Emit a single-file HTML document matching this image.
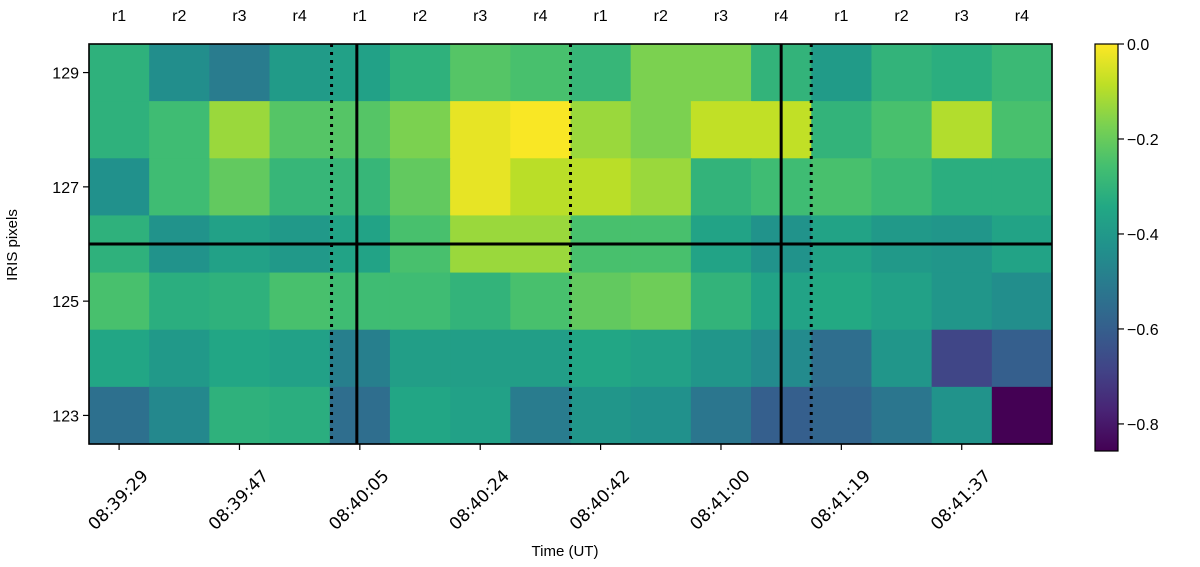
<!DOCTYPE html>
<html><head><meta charset="utf-8"><style>
body{margin:0;background:#fff;}
svg{display:block;font-family:"Liberation Sans","DejaVu Sans",sans-serif;}
</style></head><body>
<svg id="chart" width="1200" height="567" viewBox="0 0 1200 567">
<g id="cells"></g>
<g id="overlay"></g>
<g id="axes"></g>
<g id="cbar"></g>
</svg>
<script>
const rowLabels=[129,128,127,126,125,124,123];
const yTicks=[123,125,127,129];
const topLabels=["r1","r2","r3","r4","r1","r2","r3","r4","r1","r2","r3","r4","r1","r2","r3","r4"];
const timeLabels=["08:39:29","08:39:47","08:40:05","08:40:24","08:40:42","08:41:00","08:41:19","08:41:37"];
const cbTicks=[0.0,-0.2,-0.4,-0.6,-0.8];
const row129=[-0.31,-0.44,-0.50,-0.39,-0.37,-0.31,-0.23,-0.25,-0.29,-0.17,-0.17,-0.30,-0.39,-0.30,-0.32,-0.28];
const row128=[-0.31,-0.27,-0.13,-0.23,-0.23,-0.17,-0.03,-0.005,-0.13,-0.17,-0.08,-0.08,-0.30,-0.25,-0.10,-0.25];
const row127=[-0.43,-0.27,-0.21,-0.29,-0.29,-0.21,-0.03,-0.09,-0.09,-0.13,-0.30,-0.27,-0.25,-0.28,-0.32,-0.32];
const row126=[-0.31,-0.42,-0.37,-0.40,-0.36,-0.25,-0.13,-0.13,-0.25,-0.25,-0.36,-0.42,-0.36,-0.40,-0.41,-0.36];
const row125=[-0.25,-0.32,-0.31,-0.25,-0.27,-0.27,-0.30,-0.25,-0.21,-0.19,-0.30,-0.36,-0.34,-0.37,-0.41,-0.44];
const row124=[-0.35,-0.40,-0.35,-0.37,-0.49,-0.38,-0.38,-0.38,-0.35,-0.37,-0.41,-0.45,-0.55,-0.41,-0.68,-0.60];
const row123=[-0.54,-0.46,-0.31,-0.32,-0.55,-0.35,-0.37,-0.50,-0.41,-0.43,-0.52,-0.60,-0.58,-0.52,-0.42,-0.857];
const rows=[row129,row128,row127,row126,row125,row124,row123];
const vmin=-0.857, vmax=0;
const solidCols=[4.45,11.5];
const dottedCols=[4.03,8.0,12.0];
const hLineRow=126.0;

const NS="http://www.w3.org/2000/svg";
const L=89,R=1052,T=44,B=444;
const nC=16,nR=7;
const cw=(R-L)/nC, rh=(B-T)/nR;
function xCol(c){return L+c*cw;}
function yVal(v){return T+(129.5-v)*rh;}
const vir=["#440154","#482475","#414487","#355f8d","#2a788e","#21918c","#22a884","#44bf70","#7ad151","#bddf26","#fde725"];
function hex(h){return [1,3,5].map(i=>parseInt(h.substr(i,2),16));}
function cmap(v){let t=(v-vmin)/(vmax-vmin);t=Math.max(0,Math.min(1,t));const p=t*10,i=Math.min(9,Math.floor(p)),f=p-i;const a=hex(vir[i]),b=hex(vir[i+1]);return "rgb("+a.map((x,k)=>Math.round(x+(b[k]-x)*f)).join(",")+")";}
function mk(tag,attrs,parent){const e=document.createElementNS(NS,tag);for(const k in attrs)e.setAttribute(k,attrs[k]);parent.appendChild(e);return e;}
const cells=document.getElementById('cells'),ov=document.getElementById('overlay'),ax=document.getElementById('axes'),cb=document.getElementById('cbar');
rows.forEach((row,r)=>{row.forEach((v,c)=>{
 const e=mk('rect',{x:xCol(c),y:T+r*rh,width:cw+0.6,height:rh+0.6,fill:cmap(v)},cells);
 
 
});});
solidCols.forEach(c=>{const e=mk('line',{x1:xCol(c),x2:xCol(c),y1:T,y2:B,stroke:'#000','stroke-width':3},ov);
 
 });
dottedCols.forEach(c=>{const e=mk('line',{x1:xCol(c),x2:xCol(c),y1:T,y2:B,stroke:'#000','stroke-width':3,'stroke-dasharray':'3,5'},ov);
 
 });
{const e=mk('line',{x1:L,x2:R,y1:yVal(hLineRow),y2:yVal(hLineRow),stroke:'#000','stroke-width':3},ov);
 
 }
{const e=mk('rect',{x:L,y:T,width:R-L,height:B-T,fill:'none',stroke:'#000','stroke-width':1.6},ax);
 
 }
yTicks.forEach(v=>{const y=yVal(v);mk('line',{x1:L-6,x2:L,y1:y,y2:y,stroke:'#000','stroke-width':1.2},ax);
 const t=mk('text',{x:L-10,y:y+6,'text-anchor':'end','font-size':16},ax);t.textContent=v;
 
 });
topLabels.forEach((s,c)=>{const t=mk('text',{x:xCol(c+0.5),y:21,'text-anchor':'middle','font-size':16},ax);t.textContent=s;
 
 });
timeLabels.forEach((s,i)=>{const x=xCol(i*2+0.5);mk('line',{x1:x,x2:x,y1:B,y2:B+6,stroke:'#000','stroke-width':1.2},ax);
 const ax0=x+30, ay0=B+33;
 const t=mk('text',{x:ax0,y:ay0,'text-anchor':'end','font-size':17,'font-family':'"DejaVu Sans",sans-serif',transform:'rotate(-45 '+ax0+' '+ay0+')'},ax);t.textContent=s;
 
 });
{const t=mk('text',{x:565,y:556,'text-anchor':'middle','font-size':15},ax);t.textContent='Time (UT)';
 
 }
{const t=mk('text',{x:17,y:245,'text-anchor':'middle','font-size':15,transform:'rotate(-90 17 245)'},ax);t.textContent='IRIS pixels';
 
 }
const CL=1095,CR=1118,CT=44,CB=451;
function cbY(v){return CT+(vmax-v)/(vmax-vmin)*(CB-CT);}
const defs=mk('defs',{},cb);const g=mk('linearGradient',{id:'vg',x1:0,y1:1,x2:0,y2:0},defs);
vir.forEach((c,i)=>mk('stop',{offset:(i*10)+'%','stop-color':c},g));
{const e=mk('rect',{x:CL,y:CT,width:CR-CL,height:CB-CT,fill:'url(#vg)',stroke:'#000','stroke-width':1.2},cb);
 
 }
cbTicks.forEach(v=>{const y=cbY(v);mk('line',{x1:CR,x2:CR+6,y1:y,y2:y,stroke:'#000','stroke-width':1.2},cb);
 const t=mk('text',{x:CR+9,y:y+6,'font-size':16},cb);t.textContent=(v===0?'0.0':'\u2212'+Math.abs(v).toFixed(1));
 
 });
</script>
</body></html>
